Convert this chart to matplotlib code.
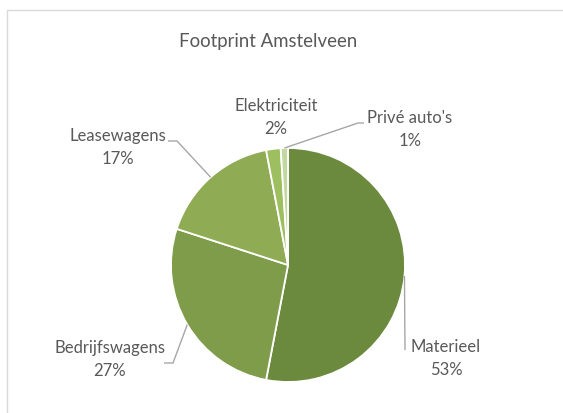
import matplotlib.pyplot as plt
import numpy as np
from matplotlib.patches import Rectangle

# footprint shares per source (percent)
categories = ['Materieel', 'Bedrijfswagens', 'Leasewagens', 'Elektriciteit', "Privé auto's"]
shares = [53, 27, 17, 2, 1]
colors = ['#6b8a3d', '#7e9c49', '#8fac55', '#9dbf5f', '#c3d8a0']
title = 'Footprint Amstelveen'

# label text centres (pixels, y down) and leader line elbows
label_pos = {
    'Materieel': (446, 347),
    'Bedrijfswagens': (110, 348),
    'Leasewagens': (118, 136),
    'Elektriciteit': (276, 106),
    "Privé auto's": (410, 118),
}
leader_elbow = {
    'Materieel': [(405, 350)],
    'Bedrijfswagens': [(173, 363), (164, 363)],
    'Leasewagens': [(177, 141), (168, 141)],
    "Privé auto's": [(358, 123), (364, 123)],
}
line_gap = 23

W, H = 563, 413
cx, cy, r = 288, 265, 117

plt.rcParams['font.family'] = ['Lato', 'DejaVu Sans']
fig = plt.figure(figsize=(W / 100, H / 100), dpi=100)
ax = fig.add_axes([0, 0, 1, 1])

wedges, _ = ax.pie(shares, colors=colors, startangle=90, counterclock=False,
                   center=(cx, H - cy), radius=r,
                   wedgeprops=dict(edgecolor='white', linewidth=1.3))

# pie() resets the limits, so fix the pixel frame afterwards
ax.set_xlim(0, W)
ax.set_ylim(0, H)
ax.set_aspect('equal')
ax.axis('off')

# chart area border
ax.add_patch(Rectangle((6.5, -20), W + 20, H - 9.5 + 20, fill=False,
                       edgecolor='#d9d9d9', linewidth=1.0))

txt_color = '#595959'
for w, name, val in zip(wedges, categories, shares):
    mid = np.deg2rad((w.theta1 + w.theta2) / 2)
    ax_pt = (cx + r * np.cos(mid), H - cy + r * np.sin(mid))
    if name in leader_elbow:
        pts = [ax_pt] + [(x, H - y) for x, y in leader_elbow[name]]
        xs, ys = zip(*pts)
        ax.plot(xs, ys, color='#a6a6a6', linewidth=1.0, solid_capstyle='butt')
    tx, ty = label_pos[name]
    ax.text(tx, H - ty, name, ha='center', va='center',
            fontsize=12, color=txt_color)
    ax.text(tx, H - ty - line_gap, f'{val}%', ha='center', va='center',
            fontsize=12, color=txt_color)

ax.text(W / 2 - 13, H - 42, title, ha='center', va='center',
        fontsize=13.4, color=txt_color)

fig.savefig('out.png', dpi=100)
